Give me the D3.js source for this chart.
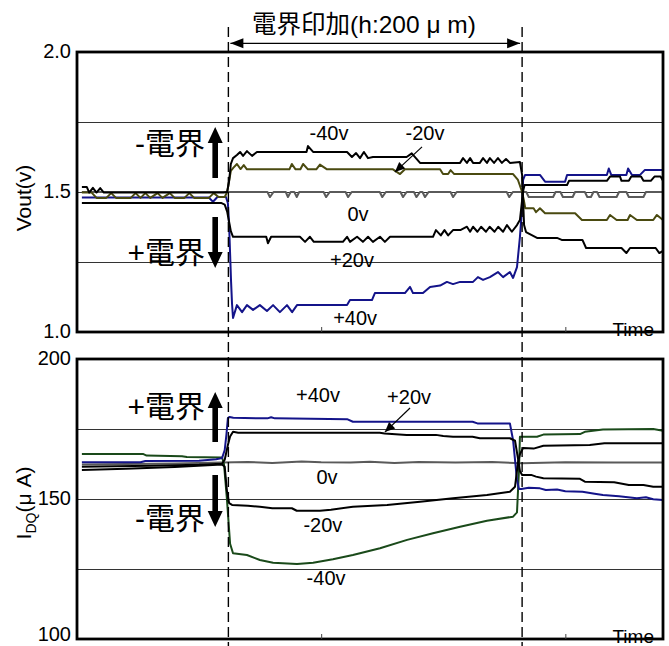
<!DOCTYPE html>
<html>
<head>
<meta charset="utf-8">
<script src="https://cdn.jsdelivr.net/npm/d3@7"></script>
<style>
body { margin: 0; background: #fff; }
svg text { font-family: "Liberation Sans", Arial, "Noto Sans CJK JP", sans-serif; fill: #000; }
</style>
</head>
<body>
<script>
// time axis (arbitrary units), field applied between FIELD_ON and FIELD_OFF
const T_DOMAIN = [0, 240];
const T_TICKS = [100, 200];
const FIELD_ON = 62.0;
const FIELD_OFF = 182.3;

const VOUT_DOMAIN = [1.0, 2.0];
const VOUT_TICKS = [1.0, 1.5, 2.0];
const VOUT_GRID = [1.25, 1.5, 1.75];
const IDQ_DOMAIN = [100, 200];
const IDQ_TICKS = [100, 150, 200];
const IDQ_GRID = [125, 150, 175];

// Vout(v) series, [time, value]
const voutM40 = [[2,1.518],[4,1.518],[5,1.498],[6.5,1.515],[8,1.498],[9.5,1.514],[11,1.498],[60,1.498],[61.5,1.5],[62.3,1.54],[63,1.6],[63.9,1.621],[65.5,1.632],[66.8,1.643],[68,1.629],[69.6,1.646],[71.7,1.629],[73.7,1.643],[94,1.643],[94.6,1.664],[96.7,1.643],[110.6,1.643],[112.6,1.625],[114.3,1.639],[115.9,1.621],[117.5,1.643],[119.2,1.621],[121.2,1.625],[135,1.625],[137.1,1.638],[140.5,1.604],[156.9,1.604],[158.1,1.621],[159.7,1.604],[161,1.621],[162.2,1.604],[165,1.604],[166.3,1.621],[167.9,1.604],[169.1,1.621],[170.8,1.604],[172.4,1.621],[174,1.604],[175.7,1.618],[177.3,1.604],[181.4,1.607],[182.3,1.561],[182.7,1.471],[183.1,1.382],[183.9,1.357],[188.4,1.336],[196.6,1.336],[198.5,1.329],[207,1.329],[208.5,1.3],[223,1.3],[225,1.282],[226.5,1.3],[237,1.3],[238.5,1.282],[240,1.29]];
const voutM20 = [[2,1.498],[6,1.498],[8,1.479],[12,1.479],[14,1.496],[16,1.479],[22,1.479],[24,1.496],[26,1.479],[28,1.496],[30,1.479],[33,1.496],[35,1.479],[38,1.496],[40,1.479],[44,1.479],[46,1.496],[48,1.479],[54,1.479],[56,1.496],[58,1.482],[60.5,1.482],[61.5,1.5],[62.3,1.54],[63,1.575],[64,1.586],[65.5,1.6],[67,1.582],[68.3,1.596],[69.6,1.581],[87,1.581],[88,1.6],[89.5,1.581],[91.5,1.581],[92.6,1.6],[94.6,1.581],[98,1.581],[99.5,1.598],[102.4,1.581],[129.4,1.581],[132.3,1.564],[134.3,1.581],[148.7,1.581],[149.9,1.564],[152,1.564],[153,1.578],[154.5,1.564],[178.6,1.564],[180.6,1.543],[182.3,1.5],[183,1.471],[183.6,1.442],[187,1.442],[188,1.428],[189.6,1.442],[191.7,1.424],[204,1.424],[206.8,1.4],[217,1.4],[218.3,1.418],[221,1.4],[225.5,1.4],[226.5,1.418],[229.3,1.4],[236,1.4],[237.5,1.418],[240,1.4]];
const vout0 = [[2,1.5],[78,1.5],[79,1.482],[80.5,1.5],[85.5,1.5],[86.4,1.482],[87.5,1.5],[89,1.5],[90,1.482],[91,1.5],[101,1.5],[102,1.482],[103.5,1.5],[110,1.5],[111,1.482],[112.5,1.5],[124,1.5],[125,1.482],[126.5,1.5],[132.5,1.5],[133.5,1.482],[135,1.5],[138,1.5],[139,1.482],[140.5,1.5],[141.5,1.5],[142.5,1.482],[144,1.5],[153,1.5],[154,1.482],[155.5,1.5],[176,1.5],[177,1.482],[178.5,1.5],[184,1.5],[185,1.482],[195,1.482],[196,1.5],[198,1.5],[199,1.482],[203,1.482],[204,1.5],[208,1.5],[209,1.482],[210.5,1.482],[211.5,1.5],[213,1.5],[214,1.482],[221,1.482],[222,1.5],[225,1.5],[226,1.482],[232,1.482],[233,1.5],[240,1.5]];
const voutP20 = [[2,1.461],[59,1.461],[60.5,1.455],[61.5,1.43],[62.3,1.393],[63,1.36],[63.9,1.34],[77.5,1.34],[78.2,1.317],[79.5,1.34],[91.3,1.34],[93.4,1.322],[95.4,1.34],[97,1.322],[108.9,1.322],[110.6,1.34],[111.8,1.322],[114.7,1.34],[117.1,1.322],[119.2,1.34],[121.2,1.322],[124.1,1.34],[126.1,1.322],[128.2,1.34],[145.8,1.34],[147,1.364],[149,1.345],[150.5,1.364],[152,1.345],[154,1.364],[157,1.364],[159.7,1.376],[161,1.358],[162.2,1.376],[164,1.358],[165.5,1.376],[167.5,1.358],[169,1.376],[171,1.358],[172.5,1.376],[174.5,1.358],[176.1,1.382],[178.1,1.358],[180.2,1.382],[181.4,1.4],[182.3,1.471],[182.8,1.507],[183.3,1.525],[200.7,1.525],[201.5,1.54],[217,1.54],[218.3,1.555],[222.4,1.555],[223,1.54],[226,1.54],[227,1.555],[231,1.555],[232,1.54],[235,1.54],[236.5,1.555],[239,1.555],[240,1.54]];
const voutP40 = [[2,1.48],[54,1.48],[55.7,1.465],[57.5,1.482],[61,1.482],[61.8,1.46],[62.3,1.38],[62.7,1.28],[63.1,1.18],[63.5,1.1],[63.9,1.05],[65.5,1.096],[67.6,1.071],[69.6,1.096],[72.1,1.079],[74.9,1.096],[77.8,1.075],[80.3,1.096],[83.1,1.071],[86,1.096],[88.1,1.071],[90.1,1.096],[110.6,1.096],[111.8,1.114],[120.8,1.114],[122,1.139],[134.3,1.139],[136.4,1.161],[137.6,1.139],[141.7,1.139],[144.6,1.161],[148.7,1.166],[151.5,1.179],[154,1.171],[156.9,1.179],[162.2,1.179],[164.2,1.196],[166.3,1.186],[169.1,1.196],[172.4,1.214],[174.5,1.196],[177.3,1.214],[178.6,1.193],[180.2,1.232],[181.4,1.339],[182.3,1.446],[182.7,1.543],[183.5,1.561],[189.6,1.561],[191.7,1.537],[199.9,1.537],[200.7,1.561],[217,1.561],[217.8,1.584],[218.8,1.561],[225,1.561],[225.7,1.584],[227.3,1.561],[230.6,1.561],[232.6,1.579],[240,1.579]];

// I_DQ(uA) series, [time, value]
const idqP40 = [[2,163.1],[26,163.1],[28,163.6],[50,163.7],[57,164.2],[59.4,164.6],[60.5,167.5],[61.2,173],[61.8,178.9],[62.5,179.3],[64,179.0],[78,178.8],[79.5,179.2],[81,178.8],[110.6,178.5],[113,177.6],[162,177.6],[164,177.0],[177.3,177.0],[178.6,171],[180.2,156.8],[181,153.6],[182,153.6],[185,154.0],[189.6,153.8],[192,153.2],[196.6,153.4],[200,152.8],[207,152.6],[212,151.9],[215.4,151.4],[222,151.0],[229.3,150.3],[233,150.6],[236,149.9],[240,149.6]];
const idqP20 = [[2,161.5],[30,161.9],[50,162.2],[59.4,162.6],[60.5,164],[61.8,169.3],[62.7,172.3],[63.9,174.0],[66,173.7],[124,173.7],[126,173.4],[135,172.9],[147,172.9],[150,172.5],[154,172.25],[162,172.25],[165,171.7],[177.3,171.7],[179.4,170.8],[180.6,164.5],[181.4,160],[182.3,158.6],[186,158.6],[188,158.0],[191,157.4],[206,157.2],[208,156.2],[220,156.0],[226,155.0],[232,155.0],[236,154.4],[240,154.4]];
const idq0 = [[2,162.3],[20,162.5],[40,162.7],[59,163.0],[70,163.2],[80,162.9],[92,163.4],[100,163.1],[112,163.0],[120,163.3],[130,162.9],[140,163.2],[155,163.0],[170,163.2],[182,162.8],[200,163.1],[220,163.0],[240,163.0]];
const idqM20 = [[2,160.4],[20,160.8],[40,161.4],[59.4,162.3],[60.5,161.5],[61.4,153],[62.3,148.5],[63.5,147.9],[70,147.6],[74.9,147.25],[80,146.7],[88,146.7],[90,145.8],[99.5,145.8],[104,146.2],[113,147.25],[127,147.9],[140.5,149.0],[154,150.25],[167.9,151.4],[177.3,152.6],[179.4,154.4],[180.6,163.0],[181.4,166],[182.7,168.2],[187,168.0],[191,169.0],[210,169.3],[216,169.9],[240,169.9]];
const idqM40 = [[2,166.1],[27,166.1],[28.5,165.5],[43,165.3],[45,165.0],[59.4,164.8],[60.2,162.5],[61.4,150],[62.7,134],[63.9,130.6],[69.6,130.0],[74.9,128.2],[80.3,127.25],[90.1,126.8],[96.7,127.25],[104.8,128.5],[113,130.0],[124.1,132.4],[135.2,135.4],[145.8,137.75],[156.9,140.1],[167.9,142.25],[178.6,143.7],[180.2,145.2],[181,160],[181.4,172.25],[188.4,172.25],[191,173.0],[206,173.2],[208,174.0],[215.4,174.8],[236,175.0],[240,174.4]];

// series labels: [text, time, value]
const voutLabels = [['-40v',103.2,1.686],['-20v',142.5,1.686],['0v',115.1,1.396],['+20v',112.6,1.232],['+40v',113.9,1.025]];
const idqLabels = [['+40v',98.7,184.6],['+20v',136,183.9],['0v',102.4,155.4],['-20v',100.7,138.2],['-40v',102,119.3]];

const W = 669, H = 646;
const X0 = 77, X1 = 663;
const COLORS = {black: '#000', grey: '#5a5a5a', blue: '#14148a', olive: '#4a4a10', green: '#1a4a1a'};

const svg = d3.select('body').append('svg')
    .attr('width', W)
    .attr('height', H);

const x = d3.scaleLinear().domain(T_DOMAIN).range([X0, X1]);

function blockArrow(g, px, yTail, yTip) {
    // thick arrow with filled head
    const dir = yTip < yTail ? -1 : 1;
    const headLen = 16, headHalf = 7.5, shaftHalf = 2.8;
    const yBase = yTip - dir * headLen;
    const pts = [
        [px - shaftHalf, yTail], [px - shaftHalf, yBase], [px - headHalf, yBase],
        [px, yTip], [px + headHalf, yBase], [px + shaftHalf, yBase], [px + shaftHalf, yTail]
    ];
    g.append('path').attr('d', 'M' + pts.join('L') + 'Z').attr('fill', '#000');
}

function thinArrow(g, x1, y1, x2, y2) {
    g.append('line')
        .attr('x1', x1).attr('y1', y1).attr('x2', x2).attr('y2', y2)
        .attr('stroke', '#000').attr('stroke-width', 1.2);
    const a = Math.atan2(y2 - y1, x2 - x1);
    const L = 10, hw = 4.5;
    const bx = x2 - L * Math.cos(a), by = y2 - L * Math.sin(a);
    const p = [[x2, y2],
        [bx + hw * Math.sin(a), by - hw * Math.cos(a)],
        [bx - hw * Math.sin(a), by + hw * Math.cos(a)]];
    g.append('path').attr('d', 'M' + p.join('L') + 'Z').attr('fill', '#000');
}

function drawPanel(o) {
    const y = d3.scaleLinear().domain(o.domain).range([o.bottom, o.top]);
    const g = svg.append('g');
    const clipId = 'clip' + o.id;
    svg.append('clipPath').attr('id', clipId)
        .append('rect').attr('x', X0).attr('y', o.top).attr('width', X1 - X0).attr('height', o.bottom - o.top);

    // grid
    g.selectAll('.grid').data(o.grid).enter().append('line')
        .attr('x1', X0).attr('x2', X1)
        .attr('y1', d => Math.round(y(d)) + 0.5).attr('y2', d => Math.round(y(d)) + 0.5)
        .attr('stroke', '#333').attr('stroke-width', 1);

    // series
    const line = d3.line().x(d => x(d[0])).y(d => y(d[1]));
    g.append('g').attr('clip-path', 'url(#' + clipId + ')')
        .selectAll('path').data(o.series).enter().append('path')
        .attr('d', d => line(d.values))
        .attr('fill', 'none')
        .attr('stroke', d => d.color)
        .attr('stroke-width', 2)
        .attr('stroke-linejoin', 'round');

    // frame
    g.append('rect')
        .attr('x', X0).attr('y', o.top)
        .attr('width', X1 - X0).attr('height', o.bottom - o.top)
        .attr('fill', 'none').attr('stroke', '#000').attr('stroke-width', 2.8);

    // x ticks (inside, no labels)
    const xAxis = d3.axisBottom(x).tickValues(T_TICKS).tickSize(-5).tickFormat('');
    const xg = g.append('g').attr('transform', 'translate(0,' + o.bottom + ')').call(xAxis);
    xg.select('.domain').remove();
    xg.selectAll('line').attr('stroke', '#444').attr('stroke-width', 1);

    // y tick labels
    const yAxis = d3.axisLeft(y).tickValues(o.ticks).tickSize(0).tickPadding(6).tickFormat(o.format);
    const yg = g.append('g').attr('transform', 'translate(' + X0 + ',0)').call(yAxis);
    yg.select('.domain').remove();
    yg.selectAll('text')
        .attr('dy', d => (o.lastLow && d === o.domain[0]) ? '0.05em' : '0.25em')
        .style('font-family', '"Liberation Sans", Arial, sans-serif')
        .style('font-size', '20px').attr('fill', '#000');

    // axis title
    const title = g.append('text')
        .attr('transform', 'translate(31,' + o.titleY + ') rotate(-90)')
        .attr('text-anchor', 'middle')
        .style('font-size', '21px');
    o.title(title);

    // Time label
    g.append('text')
        .attr('x', X1 - 9).attr('y', o.bottom + 4)
        .attr('text-anchor', 'end')
        .style('font-size', '19px')
        .text('Time');

    // series labels
    g.selectAll('.lab').data(o.labels).enter().append('text')
        .attr('x', d => x(d[1])).attr('y', d => y(d[2]))
        .attr('text-anchor', 'middle')
        .style('font-size', '20px')
        .text(d => d[0]);

    // pointer arrow to the crowded label
    thinArrow(g, x(o.pointer[0]), y(o.pointer[1]), x(o.pointer[2]), y(o.pointer[3]));

    // field annotations
    o.fields.forEach(f => {
        g.append('text')
            .attr('x', x(52.4)).attr('y', y(f.base))
            .attr('text-anchor', 'end')
            .style('font-size', '30px')
            .text(f.text);
        blockArrow(g, x(56.6), y(f.tail), y(f.tip));
    });
    return y;
}

drawPanel({
    id: 'v', top: 52, bottom: 332, domain: VOUT_DOMAIN, ticks: VOUT_TICKS, grid: VOUT_GRID,
    format: d3.format('.1f'), titleY: 198,
    title: t => t.text('Vout(v)'),
    series: [
        {values: vout0, color: COLORS.grey},
        {values: voutP40, color: COLORS.blue},
        {values: voutM20, color: COLORS.olive},
        {values: voutP20, color: COLORS.black},
        {values: voutM40, color: COLORS.black}
    ],
    labels: voutLabels,
    pointer: [141.3, 1.661, 130.2, 1.571],
    fields: [
        {text: '-電界', base: 1.636, tail: 1.55, tip: 1.732},
        {text: '+電界', base: 1.246, tail: 1.411, tip: 1.229}
    ]
});

drawPanel({
    id: 'i', top: 359, bottom: 639, domain: IDQ_DOMAIN, ticks: IDQ_TICKS, grid: IDQ_GRID,
    format: d3.format('d'), titleY: 503, lastLow: true,
    title: t => {
        t.append('tspan').text('I');
        t.append('tspan').attr('dy', 5).style('font-size', '14px').text('DQ');
        t.append('tspan').attr('dy', -5).text('(μ A)');
    },
    series: [
        {values: idq0, color: COLORS.grey},
        {values: idqM40, color: COLORS.green},
        {values: idqP40, color: COLORS.blue},
        {values: idqM20, color: COLORS.black},
        {values: idqP20, color: COLORS.black}
    ],
    labels: idqLabels,
    pointer: [136.4, 182.5, 126.1, 173.9],
    fields: [
        {text: '+電界', base: 179.3, tail: 170.4, tip: 188.2},
        {text: '-電界', base: 139.3, tail: 158.6, tip: 140.0}
    ]
});

// dashed lines marking the field period, across both panels
svg.selectAll('.dash').data([FIELD_ON, FIELD_OFF]).enter().append('line')
    .attr('x1', d => x(d)).attr('x2', d => x(d))
    .attr('y1', 27).attr('y2', H)
    .attr('stroke', '#000').attr('stroke-width', 1.4)
    .attr('stroke-dasharray', '10,5');

// title with double arrow
const ay = 43.3;
svg.append('line')
    .attr('x1', x(FIELD_ON) + 2).attr('x2', x(FIELD_OFF) - 2)
    .attr('y1', ay).attr('y2', ay)
    .attr('stroke', '#000').attr('stroke-width', 1.3);
[[x(FIELD_ON) + 2, 1], [x(FIELD_OFF) - 2, -1]].forEach(([tx, s]) => {
    svg.append('path')
        .attr('d', 'M' + tx + ',' + ay + 'L' + (tx + s * 13) + ',' + (ay - 5) + 'L' + (tx + s * 13) + ',' + (ay + 5) + 'Z')
        .attr('fill', '#000');
});
svg.append('text')
    .attr('x', 364).attr('y', 33)
    .attr('text-anchor', 'middle')
    .style('font-size', '24.5px')
    .text('電界印加(h:200 μ m)');
</script>
</body>
</html>
